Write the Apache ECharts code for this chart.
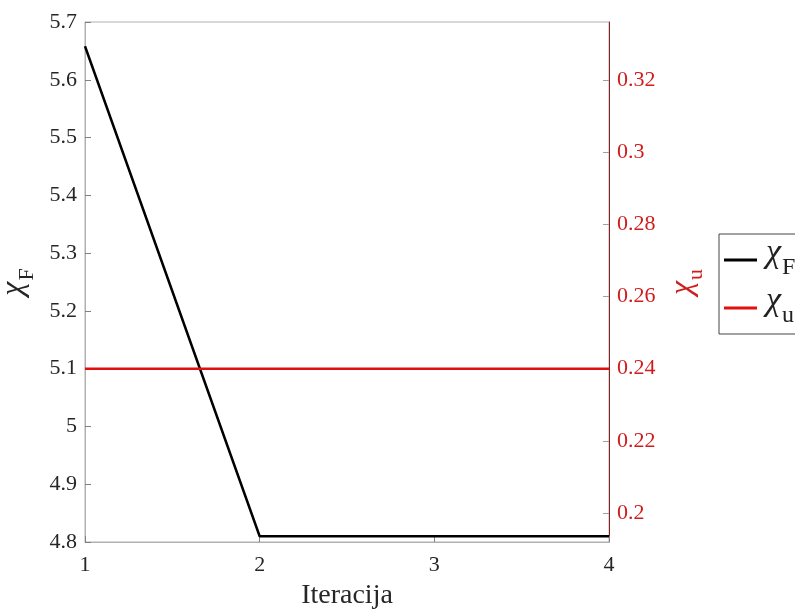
<!DOCTYPE html>
<html>
<head>
<meta charset="utf-8">
<script src="https://cdn.jsdelivr.net/npm/echarts@6/dist/echarts.min.js"></script>
<style>html,body{margin:0;padding:0;background:#fff}#c{width:795px;height:610px}</style>
</head>
<body>
<div id="c"></div>
<script>
const iterations = [1, 2, 3, 4];
const chiF = [5.658, 4.81, 4.81, 4.81];
const chiU = [0.24, 0.24, 0.24, 0.24];
const rightTicks = [0.2, 0.22, 0.24, 0.26, 0.28, 0.3, 0.32];

const FONT = '"Liberation Serif", "DejaVu Serif", serif';
const RED = '#d01c1c';
function richColored(color, gSize, sSize, drop) {
  return {
    g: { fontFamily: FONT, fontStyle: 'italic', fontSize: gSize, lineHeight: 40, verticalAlign: 'bottom', color: color, padding: [0, 1, drop, 0] },
    s: { fontFamily: FONT, fontSize: sSize, lineHeight: 40, verticalAlign: 'bottom', color: color }
  };
}
const chart = echarts.init(document.getElementById('c'));
chart.setOption({
  animation: false,
  backgroundColor: '#fff',
  grid: { left: 85, right: 186, top: 22, bottom: 68, containLabel: false, outerBoundsMode: 'none',
    show: true, borderColor: '#b0b0b0', borderWidth: 1, backgroundColor: 'transparent' },
  legend: {
    left: 719, top: 234, orient: 'vertical',
    backgroundColor: '#fff', borderColor: '#444', borderWidth: 1,
    padding: [2, 40, 6, 5], itemGap: 4,
    itemWidth: 33, itemHeight: 3,
    data: [{ name: 'F', icon: 'rect' }, { name: 'u', icon: 'rect' }],
    formatter: function (n) { return '{g|χ}{s|' + n + '}'; },
    textStyle: { color: '#222', padding: [0, 0, 0, 4], rich: richColored('#222', 34, 24, 10) }
  },
  xAxis: {
    type: 'value', min: 1, max: 4, interval: 1,
    name: 'Iteracija', nameLocation: 'middle', nameGap: 40,
    nameTextStyle: { fontFamily: FONT, fontSize: 28, color: '#262626' },
    axisLine: { lineStyle: { color: '#b0b0b0' } },
    axisTick: { inside: true, length: 6, lineStyle: { color: '#808080' } },
    axisLabel: { fontFamily: FONT, fontSize: 22, color: '#262626', margin: 12 },
    splitLine: { show: false }
  },
  yAxis: [{
    type: 'value', min: 4.8, max: 5.7, interval: 0.1, position: 'left',
    name: '{g|χ}{s|F}', nameLocation: 'middle', nameGap: 46, nameRotate: 90,
    nameTextStyle: { rich: richColored('#262626', 32, 22, 9) },
    axisLine: { show: true, lineStyle: { color: '#b0b0b0' } },
    axisTick: { show: true, inside: true, length: 6, lineStyle: { color: '#808080' } },
    axisLabel: { fontFamily: FONT, fontSize: 22, color: '#262626', margin: 8,
      formatter: function (v) { return String(parseFloat(v.toFixed(2))); } },
    splitLine: { show: false }
  }, {
    type: 'value', min: 0.192, max: 0.336, position: 'right',
    name: '{g|χ}{s|u}', nameLocation: 'middle', nameGap: 58, nameRotate: 90,
    nameTextStyle: { rich: richColored(RED, 32, 22, 9) },
    axisLine: { show: true, lineStyle: { color: '#8a1f1f' } },
    axisTick: { show: true, inside: true, length: 6, customValues: rightTicks, lineStyle: { color: '#a0a0a0' } },
    axisLabel: { fontFamily: FONT, fontSize: 22, color: RED, margin: 8, customValues: rightTicks,
      formatter: function (v) { return String(parseFloat(v.toFixed(3))); } },
    splitLine: { show: false }
  }],
  series: [{
    name: 'F', type: 'line', yAxisIndex: 0, showSymbol: false,
    data: iterations.map((x, i) => [x, chiF[i]]),
    lineStyle: { color: '#000', width: 2.5 }, itemStyle: { color: '#000' }
  }, {
    name: 'u', type: 'line', yAxisIndex: 1, showSymbol: false,
    data: iterations.map((x, i) => [x, chiU[i]]),
    lineStyle: { color: '#e01010', width: 2.5 }, itemStyle: { color: '#e01010' }
  }]
});
</script>
</body>
</html>
